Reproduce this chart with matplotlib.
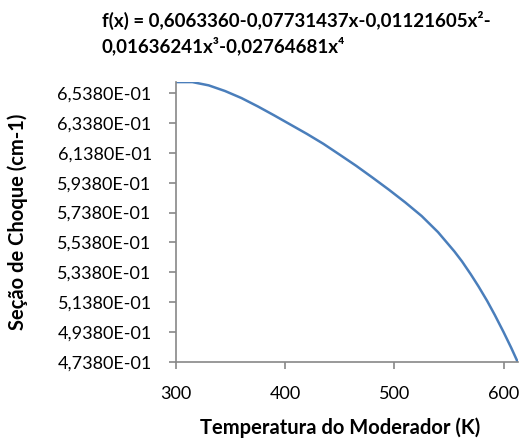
import matplotlib.pyplot as plt
from matplotlib.ticker import FixedLocator, FuncFormatter

# values
temp = [300, 315, 330, 345, 360, 375, 390, 405, 420, 435, 450, 465, 480,
        495, 510, 525, 540, 555, 562, 570, 577, 585, 592, 600, 607, 613]
secao = [0.6611, 0.6611, 0.6589, 0.6551, 0.6504, 0.6448, 0.6388, 0.6326,
         0.6264, 0.6198, 0.6125, 0.6051, 0.5972, 0.5891, 0.5806, 0.5715,
         0.5607, 0.5478, 0.5411, 0.5325, 0.5245, 0.5147, 0.5053, 0.4939,
         0.4834, 0.4738]

y_ticks = [0.4738 + 0.02 * i for i in range(10)]
x_ticks = [300, 400, 500, 600]

title_1 = "f(x) = 0,6063360-0,07731437x-0,01121605x\u00b2-"
title_2 = "0,01636241x\u00b3-0,02764681x\u2074"

fam = ['Lato', 'DejaVu Sans']
plt.rcParams['font.family'] = fam

fig = plt.figure(figsize=(5.28, 4.46), dpi=100)
ax = fig.add_axes([0.3333, 0.1883, 0.6472, 0.628])

ax.plot(temp, secao, color='#4A7EBB', linewidth=1.8, solid_capstyle='round')

ax.set_xlim(300, 613)
ax.set_ylim(0.4738, 0.6612)
ax.xaxis.set_major_locator(FixedLocator(x_ticks))
ax.yaxis.set_major_locator(FixedLocator(y_ticks))
ax.yaxis.set_major_formatter(FuncFormatter(
    lambda v, p: ('%.4E' % v).replace('.', ',')))

for s in ['top', 'right']:
    ax.spines[s].set_visible(False)
for s in ['left', 'bottom']:
    ax.spines[s].set_color('#888888')
    ax.spines[s].set_linewidth(1.2)
ax.tick_params(axis='both', direction='out', length=5, width=1.2,
               color='#888888', labelsize=13, labelcolor='black')
ax.tick_params(axis='y', pad=12.5)
ax.tick_params(axis='x', pad=12.5)

fig.text(0.193, 0.9395, title_1, fontsize=13.5, fontweight='bold',
         ha='left', va='baseline')
fig.text(0.193, 0.8834, title_2, fontsize=13.5, fontweight='bold',
         ha='left', va='baseline')
fig.text(0.034, 0.502, 'Seção de Choque (cm-1)', rotation=90, fontsize=14.5,
         fontweight='bold', ha='center', va='center')
fig.text(0.644, 0.040, 'Temperatura do Moderador (K)', fontsize=14.5,
         fontweight='bold', ha='center', va='center')

fig.savefig('out.png', dpi=100)
